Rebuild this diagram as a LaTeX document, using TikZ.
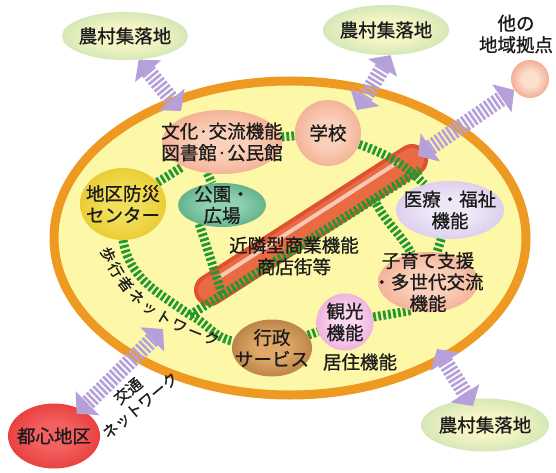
\documentclass[tikz,border=0pt]{standalone}
\usepackage{fontspec}
\setmainfont{Noto Sans CJK JP}[FakeBold=0.9]
\usetikzlibrary{positioning,arrows.meta,shapes.geometric,backgrounds,decorations.text,calc}
\definecolor{ring}{HTML}{EE9A22}
\definecolor{area}{HTML}{FDF7A8}
\definecolor{walk}{HTML}{22992F}
\definecolor{lilac}{HTML}{B6A0D9}
\definecolor{shop}{HTML}{EA6A42}
\definecolor{shopdark}{HTML}{DE5232}
\definecolor{shoplight}{HTML}{F9C8B6}
\definecolor{ink}{HTML}{1C1C1C}
\definecolor{nosonin}{HTML}{F7F5C6}
\definecolor{nosonout}{HTML}{A8D6A2}
\definecolor{salmonin}{HTML}{FAD0BA}
\definecolor{salmonout}{HTML}{EC8C6A}
\definecolor{bosaiin}{HTML}{F2DE5A}
\definecolor{bosaiout}{HTML}{E0B600}
\definecolor{koenin}{HTML}{8FD0B0}
\definecolor{koenout}{HTML}{2E8A5E}
\definecolor{iryoin}{HTML}{EEE8F6}
\definecolor{iryoout}{HTML}{C5AEE0}
\definecolor{kankoin}{HTML}{FAD6F0}
\definecolor{kankoout}{HTML}{E283C6}
\definecolor{gyoseiin}{HTML}{E0A868}
\definecolor{gyoseiout}{HTML}{8E5420}
\definecolor{tashiin}{HTML}{FCE0CC}
\definecolor{tashiout}{HTML}{E8684A}
\definecolor{toshinin}{HTML}{F46060}
\definecolor{toshinout}{HTML}{DA1616}
\colorlet{spotin}{white}
\colorlet{spotout}{gray}
\pgfdeclareradialshading[spotin,spotout]{softball}{\pgfpoint{0bp}{0bp}}{color(0bp)=(spotin); color(10bp)=(spotin); color(46bp)=(spotout); color(50bp)=(spotout)}

\begin{document}
\begin{tikzpicture}[x=1pt, y=1pt,
  txt/.style={font=\fontsize{18.5}{21.5}\selectfont, text=ink, align=center, inner sep=0pt},
  spot/.style 2 args={ellipse, inner sep=0pt, shading=softball,
              /utils/exec={\colorlet{spotin}{#1}\colorlet{spotout}{#2}}},
  walkway/.style={draw=walk, line width=9pt, dash pattern=on 2.8pt off 2.2pt},
  link/.style={draw=lilac, line width=16pt, dash pattern=on 2.6pt off 2pt,
              {Triangle[width=34pt,length=15pt,line width=0pt]}-{Triangle[width=34pt,length=15pt,line width=0pt]}}]
\useasboundingbox (0,0) rectangle (556,-473);
\node[spot={nosonin}{nosonout}, minimum width=126pt, minimum height=48pt,
      label={[txt]center:農村集落地}] (noson1) at (125,-36) {};
\node[spot={nosonin}{nosonout}, minimum width=126pt, minimum height=50pt,
      label={[txt]center:農村集落地}] (noson2) at (386,-30) {};
\node[spot={nosonin}{nosonout}, minimum width=128pt, minimum height=53pt,
      label={[txt]center:農村集落地}] (noson3) at (485,-425) {};
\node[spot={tashiin}{tashiout}, minimum width=38pt, minimum height=38pt] (tashi) at (530,-79) {};
\node[txt] (tashilab) at (516,-34) {他の\\地域拠点};
\node[spot={toshinin}{toshinout}, minimum width=92pt, minimum height=65pt,
      label={[txt]center:都心地区}] (toshin) at (54,-436) {};
\node[spot={salmonin}{salmonout}, minimum width=120pt, minimum height=64pt,
      label={[txt]center:文化·交流機能\\図書館·公民館}] (bunka) at (222,-142) {};
\node[spot={salmonin}{salmonout}, minimum width=66pt, minimum height=66pt,
      label={[txt]center:学校}] (gakko) at (328,-133) {};
\node[spot={bosaiin}{bosaiout}, minimum width=86pt, minimum height=72pt,
      label={[txt]center:地区防災\\センター}] (bosai) at (123,-204) {};
\node[spot={koenin}{koenout}, minimum width=88pt, minimum height=44pt,
      label={[txt]center:公園・\\広場}] (koen) at (222,-205) {};
\node[spot={iryoin}{iryoout}, minimum width=108pt, minimum height=58pt,
      label={[txt]center:医療・福祉\\機能}] (iryo) at (450,-210) {};
\node[spot={salmonin}{salmonout}, minimum width=100pt, minimum height=60pt,
      label={[txt]center:子育て支援\\・多世代交流\\機能}] (kosodate) at (428,-282) {};
\node[spot={kankoin}{kankoout}, minimum width=57pt, minimum height=57pt,
      label={[txt]center:観光\\機能}] (kanko) at (345,-322) {};
\node[spot={gyoseiin}{gyoseiout}, minimum width=80pt, minimum height=57pt,
      label={[txt]center:行政\\サービス}] (gyosei) at (272,-348) {};
\node[txt] (shoten) at (294,-256) {近隣型商業機能\\商店街等};
\node[txt] (kyoju) at (360,-362) {居住機能};
\node[txt, font=\fontsize{15.5}{19}\selectfont, rotate=40] (kotsu) at (134,-398) {交通\\ネットワーク};
\path[decorate, decoration={text along path, text align={fit to path},
      text={|\fontsize{15}{15}\selectfont\color{ink}|歩行者ネットワーク}}]
  (100,-250) to[out=-68,in=162] (217,-346);
\coordinate (a1) at (181,-111);
\coordinate (a2) at (357,-110);
\coordinate (a3) at (418,-156);
\coordinate (a4) at (437,-349);
\coordinate (a5) at (163,-329);
\draw[link] (noson1.300) -- (a1);
\draw[link] (noson2.280) -- (a2);
\draw[link] (a3) -- (tashi);
\draw[link, shorten >=-8pt] (a4) -- (noson3);
\draw[link, shorten >=-6pt] (a5) -- (toshin);
\begin{scope}[on background layer]
\fill[white] (0,0) rectangle (556,-473);
\draw[ring, line width=9pt, fill=area] (290,-238) ellipse[x radius=236pt, y radius=157pt];
\coordinate (s1) at (210,-290);
\coordinate (s2) at (412,-160);
\draw[shopdark, line width=32pt, line cap=round] (s1) -- (s2);
\draw[shop, line width=24pt, line cap=round] (s1) -- (s2);
\draw[shoplight, line width=4pt, line cap=round] ($(s1)!0.06!(s2)+(-3,5)$) -- ($(s1)!0.94!(s2)+(-3,5)$);
\coordinate (jl) at (190,-315);
\coordinate (jr) at (420,-170);
\draw[walkway] (bosai.south) to[out=-80,in=145] (jl) to[out=-25,in=170] (gyosei);
\draw[walkway] (jl) -- (jr);
\draw[walkway] (gakko) to[out=-20,in=135] (iryo);
\draw[walkway] ($(jl)!0.8!(jr)$) to[out=-65,in=120] (kosodate);
\draw[walkway] (koen.220) -- ($(jl)!0.14!(jr)$);
\draw[walkway] (bosai) -- (bunka);
\draw[walkway] (bunka.245) -- (koen.115);
\draw[walkway] (bunka) -- (gakko);
\draw[walkway] (iryo) -- (kosodate);
\draw[walkway] (gyosei) -- (kanko);
\draw[walkway] (kanko.10) -- (kosodate.240);
\end{scope}
\end{tikzpicture}
\end{document}
